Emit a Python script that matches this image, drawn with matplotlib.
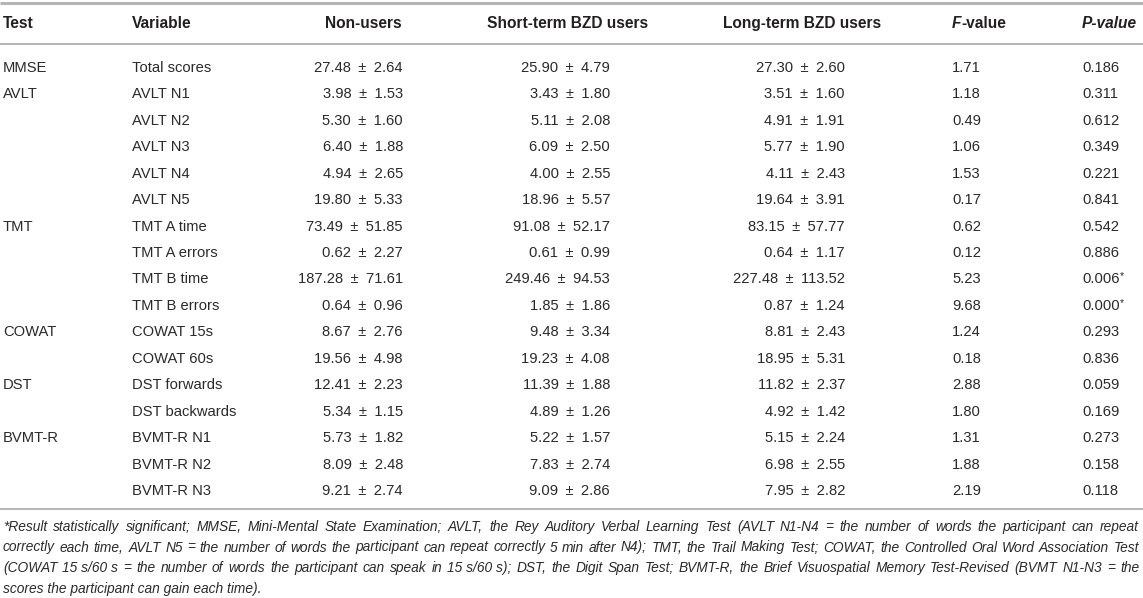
import matplotlib
matplotlib.use("Agg")
import matplotlib.pyplot as plt

tests = ["MMSE", "AVLT", "", "", "", "", "TMT", "", "", "", "COWAT", "", "DST", "", "BVMT-R", "", ""]
variables = ["Total scores", "AVLT N1", "AVLT N2", "AVLT N3", "AVLT N4", "AVLT N5",
             "TMT A time", "TMT A errors", "TMT B time", "TMT B errors",
             "COWAT 15s", "COWAT 60s", "DST forwards", "DST backwards",
             "BVMT-R N1", "BVMT-R N2", "BVMT-R N3"]

non_mean = [27.48, 3.98, 5.30, 6.40, 4.94, 19.80, 73.49, 0.62, 187.28, 0.64, 8.67, 19.56, 12.41, 5.34, 5.73, 8.09, 9.21]
non_sd = [2.64, 1.53, 1.60, 1.88, 2.65, 5.33, 51.85, 2.27, 71.61, 0.96, 2.76, 4.98, 2.23, 1.15, 1.82, 2.48, 2.74]
short_mean = [25.90, 3.43, 5.11, 6.09, 4.00, 18.96, 91.08, 0.61, 249.46, 1.85, 9.48, 19.23, 11.39, 4.89, 5.22, 7.83, 9.09]
short_sd = [4.79, 1.80, 2.08, 2.50, 2.55, 5.57, 52.17, 0.99, 94.53, 1.86, 3.34, 4.08, 1.88, 1.26, 1.57, 2.74, 2.86]
long_mean = [27.30, 3.51, 4.91, 5.77, 4.11, 19.64, 83.15, 0.64, 227.48, 0.87, 8.81, 18.95, 11.82, 4.92, 5.15, 6.98, 7.95]
long_sd = [2.60, 1.60, 1.91, 1.90, 2.43, 3.91, 57.77, 1.17, 113.52, 1.24, 2.43, 5.31, 2.37, 1.42, 2.24, 2.55, 2.82]
f_values = [1.71, 1.18, 0.49, 1.06, 1.53, 0.17, 0.62, 0.12, 5.23, 9.68, 1.24, 0.18, 2.88, 1.80, 1.31, 1.88, 2.19]
p_values = [0.186, 0.311, 0.612, 0.349, 0.221, 0.841, 0.542, 0.886, 0.006, 0.000, 0.293, 0.836, 0.059, 0.169, 0.273, 0.158, 0.118]
significant = [False] * 8 + [True, True] + [False] * 7

footnote_lines = [
    "*Result statistically significant; MMSE, Mini-Mental State Examination; AVLT, the Rey Auditory Verbal Learning Test (AVLT N1-N4 = the number of words the participant can repeat",
    "correctly each time, AVLT N5 = the number of words the participant can repeat correctly 5 min after N4); TMT, the Trail Making Test; COWAT, the Controlled Oral Word Association Test",
    "(COWAT 15\u00a0s/60\u00a0s = the number of words the participant can speak in 15\u00a0s/60\u00a0s); DST, the Digit Span Test; BVMT-R, the Brief Visuospatial Memory Test-Revised (BVMT N1-N3 = the",
    "scores the participant can gain each time).",
]

plt.rcParams["font.family"] = ["Liberation Sans", "DejaVu Sans"]

W, H = 1143, 598
fig = plt.figure(figsize=(W / 100, H / 100), dpi=100)
ax = fig.add_axes([0, 0, 1, 1])
ax.set_xlim(0, W)
ax.set_ylim(H, 0)
ax.axis("off")
renderer = fig.canvas.get_renderer()

text_color = "#231f20"
body_color = "#2a2a2a"
line_color = "#b4b4b4"
hfs = 11.2
fs = 10.6

# rules
for y, lw in [(3, 2.2), (44, 1.4), (509, 1.4)]:
    ax.plot([0, W], [y, y], color=line_color, lw=lw, solid_capstyle="butt")

# header (baseline aligned)
hy = 27.5
hkw = dict(fontsize=hfs, fontweight="bold", color=text_color, va="baseline")
ax.text(3, hy, "Test", **hkw)
ax.text(132, hy, "Variable", **hkw)
ax.text(402, hy, "Non-users", ha="right", **hkw)
ax.text(487, hy, "Short-term BZD users", **hkw)
ax.text(723, hy + 0.6, "Long-term BZD users", **hkw)
fx = 952
t = ax.text(fx, hy, "F", fontstyle="italic", **hkw)
fw = t.get_window_extent(renderer).width
ax.text(fx + fw, hy, "-value", **hkw)
ax.text(1082, hy, "P-value", fontstyle="italic", **hkw)

# body
y0, dy = 71.8, 26.46
pm = "\u2002\u00b1\u2002"
bkw = dict(fontsize=fs, color=body_color, va="baseline")
for i in range(len(variables)):
    y = y0 + i * dy
    ax.text(3, y, tests[i], **bkw)
    ax.text(132, y, variables[i], **bkw)
    ax.text(403, y, f"{non_mean[i]:.2f}{pm}{non_sd[i]:.2f}", ha="right", **bkw)
    ax.text(610, y, f"{short_mean[i]:.2f}{pm}{short_sd[i]:.2f}", ha="right", **bkw)
    ax.text(845, y, f"{long_mean[i]:.2f}{pm}{long_sd[i]:.2f}", ha="right", **bkw)
    ax.text(952, y, f"{f_values[i]:.2f}", **bkw)
    pt = ax.text(1082, y, f"{p_values[i]:.3f}", **bkw)
    if significant[i]:
        pw = pt.get_window_extent(renderer).width
        ax.text(1082 + pw + 0.5, y - 4, "*", fontsize=fs * 0.72, color=body_color, va="baseline")

# footnote, justified
fn_fs = 9.9
left, right = 3, 1139
for j, line in enumerate(footnote_lines):
    y = 531 + j * 20.5
    fkw = dict(fontsize=fn_fs, fontstyle="italic", color=body_color, va="baseline")
    if j == len(footnote_lines) - 1:
        ax.text(left, y, line, **fkw)
        continue
    words = line.split(" ")
    objs = [ax.text(0, y, w, **fkw) for w in words]
    widths = [o.get_window_extent(renderer).width for o in objs]
    gap = (right - left - sum(widths)) / (len(words) - 1)
    x = left
    for o, w in zip(objs, widths):
        o.set_x(x)
        x += w + gap

fig.savefig("out.png", dpi=100)
